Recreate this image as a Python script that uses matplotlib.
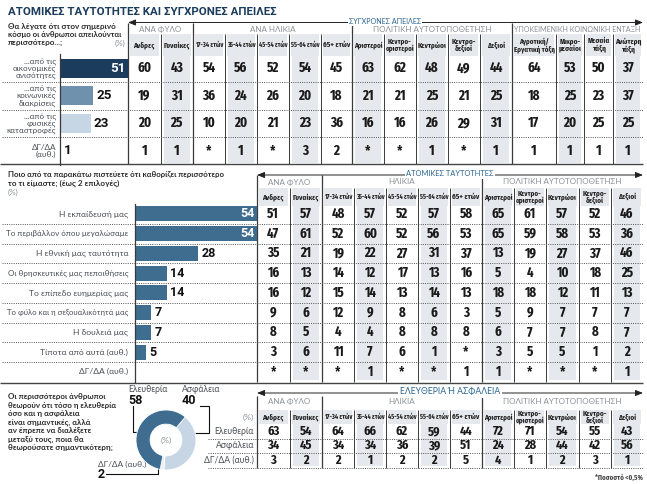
import matplotlib
matplotlib.use('Agg')
import matplotlib.pyplot as plt
from matplotlib import font_manager
from matplotlib.patches import Rectangle

# ---------------- data ----------------
title = "ΑΤΟΜΙΚΕΣ ΤΑΥΤΟΤΗΤΕΣ ΚΑΙ ΣΥΓΧΡΟΝΕΣ ΑΠΕΙΛΕΣ"
gender_cols = ["Ανδρες", "Γυναίκες"]
age_cols = ["17-34 ετών", "35-44 ετών", "45-54 ετών", "55-64 ετών", "65+ ετών"]
pol_cols = ["Αριστεροί", "Κεντρο-\nαριστεροί", "Κεντρώοι", "Κεντρο-\nδεξιοί", "Δεξιοί"]
soc_cols = ["Αγροτική/\nΕργατική τάξη", "Μικρο-\nμεσαίοι", "Μεσαία\nτάξη", "Ανώτερη\nτάξη"]

top_groups = ["ΑΝΑ ΦΥΛΟ", "ΑΝΑ ΗΛΙΚΙΑ", "ΠΟΛΙΤΙΚΗ ΑΥΤΟΤΟΠΟΘΕΤΗΣΗ", "ΥΠΟΚΕΙΜΕΝΙΚΗ ΚΟΙΝΩΝΙΚΗ ΕΝΤΑΞΗ"]
mid_groups = ["ΑΝΑ ΦΥΛΟ", "ΗΛΙΚΙΑ", "ΠΟΛΙΤΙΚΗ ΑΥΤΟΤΟΠΟΘΕΤΗΣΗ"]

q1_title = "ΣΥΓΧΡΟΝΕΣ ΑΠΕΙΛΕΣ"
q1_text = ["Θα λέγατε ότι στον σημερινό", "κόσμο οι άνθρωποι απειλούνται", "περισσότερο...;"]
threat_labels = ["...από τις\nοικονομικές\nανισότητες", "...από τις\nκοινωνικές\nδιακρίσεις",
                 "...από τις\nφυσικές\nκαταστροφές", "ΔΓ/ΔΑ\n(αυθ.)"]
threat_total = [51, 25, 23, 1]
threat_by_group = [
    ["60", "43", "54", "56", "52", "54", "45", "63", "62", "48", "49", "44", "64", "53", "50", "37"],
    ["19", "31", "36", "24", "26", "20", "18", "21", "21", "25", "21", "25", "18", "25", "23", "37"],
    ["20", "25", "10", "20", "21", "23", "36", "16", "16", "26", "29", "31", "17", "20", "25", "25"],
    ["1", "1", "*", "1", "*", "3", "2", "*", "*", "1", "*", "1", "1", "1", "1", "1"],
]

q2_title = "ΑΤΟΜΙΚΕΣ ΤΑΥΤΟΤΗΤΕΣ"
q2_text = ["Ποιο από τα παρακάτω πιστεύετε ότι καθορίζει περισσότερο", "το τι είμαστε; (έως 2 επιλογές)"]
identity_labels = ["Η εκπαίδευσή μας", "Το περιβάλλον όπου μεγαλώσαμε", "Η εθνική μας ταυτότητα",
                   "Οι θρησκευτικές μας πεποιθήσεις", "Το επίπεδο ευημερίας μας",
                   "Το φύλο και η σεξουαλικότητά μας", "Η δουλειά μας", "Τίποτα από αυτά (αυθ.)",
                   "ΔΓ/ΔΑ (αυθ.)"]
identity_total = [54, 54, 28, 14, 14, 7, 7, 5]
identity_by_group = [
    ["51", "57", "48", "57", "52", "57", "58", "65", "61", "57", "52", "46"],
    ["47", "61", "52", "60", "52", "56", "53", "65", "59", "58", "53", "36"],
    ["35", "21", "19", "22", "27", "31", "37", "13", "19", "27", "37", "46"],
    ["16", "13", "14", "12", "17", "13", "16", "5", "4", "10", "18", "25"],
    ["16", "12", "15", "14", "13", "14", "13", "18", "18", "12", "11", "13"],
    ["9", "6", "12", "9", "8", "6", "3", "5", "9", "7", "7", "7"],
    ["8", "5", "4", "4", "8", "8", "8", "6", "7", "7", "8", "7"],
    ["3", "6", "11", "7", "6", "1", "*", "3", "5", "5", "1", "2"],
    ["*", "*", "*", "1", "*", "*", "1", "1", "*", "*", "*", "1"],
]

q3_title = "ΕΛΕΥΘΕΡΙΑ Ή ΑΣΦΑΛΕΙΑ"
q3_text = ["Οι περισσότεροι άνθρωποι", "θεωρούν ότι τόσο η ελευθερία", "όσο και η ασφάλεια",
           "είναι σημαντικές, αλλά", "αν έπρεπε να διαλέξετε", "μεταξύ τους, ποια θα",
           "θεωρούσατε σημαντικότερη;"]
choice_labels = ["Ελευθερία", "Ασφάλεια", "ΔΓ/ΔΑ (αυθ.)"]
choice_total = [58, 40, 2]
choice_by_group = [
    ["63", "54", "64", "66", "62", "59", "44", "72", "71", "54", "55", "43"],
    ["34", "45", "34", "34", "36", "39", "51", "24", "28", "44", "42", "56"],
    ["3", "2", "2", "1", "2", "2", "5", "4", "1", "2", "3", "1"],
]
footnote = "*Ποσοστό <0,5%"

# ---------------- fonts / colours ----------------
names = {f.name for f in font_manager.fontManager.ttflist}


def pick(*cands):
    for n in cands:
        if n in names:
            return n
    return 'DejaVu Sans'


CONDF = [pick('Fira Sans Extra Condensed', 'Fira Sans Condensed', 'Roboto Condensed'), 'DejaVu Sans']
SANS = [pick('Lato', 'Roboto', 'Open Sans'), 'DejaVu Sans']
BOLD = [pick('Roboto', 'Lato', 'Open Sans'), 'DejaVu Sans']

NAVY = '#1b3c5c'
STEEL = '#3f6d90'
MID = '#6f91ad'
LIGHT = '#c6d6e4'
ACCENT = '#2a6591'
GREYTXT = '#8b9097'
LABTXT = '#4a4e54'
SHADE = '#e5e8ec'
LINE = '#3a3a3a'

W, H = 647, 484
fig = plt.figure(figsize=(W / 100, H / 100), dpi=100)
renderer = fig.canvas.get_renderer()
bg = fig.add_axes([0, 0, 1, 1])
bg.set_xlim(0, W)
bg.set_ylim(H, 0)
bg.axis('off')


def fit(t, maxw):
    w = t.get_window_extent(renderer).width
    if w > maxw:
        t.set_fontsize(t.get_fontsize() * maxw / w)
    return t


def fa(x0, y0, x1, y1):
    return [x0 / W, 1 - y1 / H, (x1 - x0) / W, (y1 - y0) / H]


def num(x, y, s, size, maxw):
    t = bg.text(x, y, s, ha='center', va='center', fontsize=size, fontweight='bold',
                family=CONDF, color='#1a1a1a')
    fit(t, maxw)


def arrow(x0, x1, y, label, cx, width):
    bg.annotate('', xy=(x1, y), xytext=(x0, y),
                arrowprops=dict(arrowstyle='<|-|>,head_length=0.45,head_width=0.18',
                                lw=0.7, color='#222222', shrinkA=0, shrinkB=0))
    t = bg.text(cx, y - 1, label, ha='center', va='center', fontsize=6.2, color=ACCENT,
                family=SANS, bbox=dict(facecolor='white', edgecolor='none', pad=1.2))
    fit(t, width)


def table(bounds, group_idx, group_names, group_y, group_top, hy0, hy1, bottom,
          headers, rows, row_y, size):
    ncol = len(bounds) - 1
    for j in range(ncol):
        x0, x1 = bounds[j], bounds[j + 1]
        bg.add_patch(Rectangle((x0 + 2, hy0), x1 - x0 - 4, hy1 - hy0, color=SHADE, lw=0, zorder=0))
        if j % 2 == 1:
            bg.add_patch(Rectangle((x0 + 3, hy1), x1 - x0 - 6, bottom - hy1 - 1.5,
                                   color=SHADE, lw=0, zorder=0))
        t = bg.text((x0 + x1) / 2, (hy0 + hy1) / 2, headers[j], ha='center', va='center',
                    fontsize=5.6, fontweight='bold', family=CONDF,
                    color='#222222', linespacing=0.92)
        fit(t, x1 - x0 - 3)
        for i, r in enumerate(rows):
            num((x0 + x1) / 2, row_y[i], r[j], size, x1 - x0 - 6)
    inner = [bounds[k] for k in range(ncol) if k not in group_idx]
    bg.vlines(inner, hy0, bottom, color=LINE, lw=0.7, zorder=1)
    gx = [bounds[k] for k in group_idx if k < ncol]
    bg.vlines(gx, group_top, bottom, color=LINE, lw=0.9, zorder=1)
    for g in range(len(group_names)):
        a, b = bounds[group_idx[g]], bounds[group_idx[g + 1]]
        t = bg.text((a + b) / 2, group_y, group_names[g], ha='center', va='center',
                    fontsize=5.8, color=GREYTXT, family=SANS)
        fit(t, b - a - 3)


def dotted(ys, x0=2, x1=643):
    bg.hlines(ys, x0, x1, colors='#555555', lw=0.7, linestyles=(0, (1, 1.3)), zorder=1)


# ---------------- title ----------------
fit(bg.text(8, 12, title, ha='left', va='center', fontsize=10.5, fontweight='bold',
            family=BOLD, color=NAVY), 268)

# ================= section 1 =================
t_top, t_pitch = 54.5, 27.5
t_rows = [t_top + t_pitch * (i + 0.5) for i in range(len(threat_labels))]
t_bottom = 164
for i, s in enumerate(q1_text):
    fit(bg.text(8, 27 + 8 * i, s, ha='left', va='center', fontsize=5.9, fontweight='bold',
                family=SANS, color='#2b2b2b'), 112)
bg.text(125, 43, "(%)", ha='right', va='center', fontsize=5.9, color=GREYTXT, family=SANS)
arrow(128, 643, 22.5, q1_title, 385, 72)

top_bounds = [128, 160.5, 193, 225, 257, 289, 321, 352, 384, 416, 448, 480, 512, 556, 584, 613, 643]
table(top_bounds, [0, 2, 7, 12, 16], top_groups, 29, 22.5, 34, 56, t_bottom,
      gender_cols + age_cols + pol_cols + soc_cols, threat_by_group, t_rows, 10.2)
dotted([t_top + t_pitch * k for k in range(1, len(threat_labels))])
bg.hlines([t_bottom], 0, 643, colors='#444444', lw=1.0)

for i, s in enumerate(threat_labels):
    bg.text(56, t_rows[i], s, ha='right', va='center', fontsize=5.9, color=LABTXT,
            family=SANS, linespacing=0.95)

ax1 = fig.add_axes(fa(60, t_top, 128, t_top + t_pitch * len(threat_labels)))
ax1.patch.set_alpha(0)
cols1 = [NAVY, MID, LIGHT, LIGHT]
ax1.barh(range(len(threat_total)), threat_total, height=0.7, color=cols1)
ax1.set_xlim(0, max(threat_total))
ax1.set_ylim(len(threat_total) - 0.5, -0.5)
for sp in ['top', 'right', 'bottom']:
    ax1.spines[sp].set_visible(False)
ax1.spines['left'].set_color(LINE)
ax1.spines['left'].set_linewidth(0.9)
ax1.set_xticks([]); ax1.set_yticks([])
for i, v in enumerate(threat_total):
    if v > 40:
        ax1.text(v - 1.5, i, str(v), ha='right', va='center', color='white', fontsize=9.6,
                 fontweight='bold', family=BOLD)
    else:
        ax1.text(v + 2, i, str(v), ha='left', va='center', color='#111111', fontsize=9.6,
                 fontweight='bold', family=BOLD, clip_on=False)

# ================= section 2 =================
m_top, m_pitch = 204, 19.75
m_rows = [m_top + m_pitch * (i + 0.5) for i in range(len(identity_labels))]
m_bottom = m_top + m_pitch * len(identity_labels)
for i, s in enumerate(q2_text):
    fit(bg.text(8, 174 + 9 * i, s, ha='left', va='center', fontsize=5.9, fontweight='bold',
                family=SANS, color='#2b2b2b'), 214)
bg.text(8, 192, "(%)", ha='left', va='center', fontsize=5.9, color=GREYTXT, family=SANS)
arrow(257, 643, 175, q2_title, 450, 88)

mid_bounds = [257, 289.5, 322, 354, 386, 418, 450, 482, 514, 546, 578.5, 611, 643]
table(mid_bounds, [0, 2, 7, 12], mid_groups, 182, 175, 188, 205.5, m_bottom,
      gender_cols + age_cols + pol_cols, identity_by_group, m_rows, 10.0)
dotted([m_top + m_pitch * k for k in range(1, len(identity_labels))])
bg.hlines([m_bottom + 1], 0, 643, colors='#444444', lw=1.0)

for i, s in enumerate(identity_labels):
    fit(bg.text(128, m_rows[i], s, ha='right', va='center', fontsize=6.1, color=LABTXT,
                family=SANS), 122)

ax2 = fig.add_axes(fa(135, m_top, 257, m_bottom))
ax2.patch.set_alpha(0)
ax2.barh(range(len(identity_total)), identity_total, height=0.76, color=STEEL)
ax2.set_xlim(0, max(identity_total))
ax2.set_ylim(len(identity_labels) - 0.5, -0.5)
for sp in ['top', 'right', 'bottom']:
    ax2.spines[sp].set_visible(False)
ax2.spines['left'].set_color(LINE)
ax2.spines['left'].set_linewidth(0.9)
ax2.set_xticks([]); ax2.set_yticks([])
for i, v in enumerate(identity_total):
    if v > 40:
        ax2.text(v - 1.2, i, str(v), ha='right', va='center', color='white', fontsize=9,
                 fontweight='bold', family=BOLD)
    else:
        ax2.text(v + 1.5, i, str(v), ha='left', va='center', color='#111111', fontsize=9,
                 fontweight='bold', family=BOLD, clip_on=False)

# ================= section 3 =================
b_top, b_pitch = 424, 14.5
b_rows = [b_top + b_pitch * (i + 0.5) for i in range(len(choice_labels))]
b_bottom = b_top + b_pitch * len(choice_labels)
for i, s in enumerate(q3_text):
    fit(bg.text(8, 397 + 8.4 * i, s, ha='left', va='center', fontsize=5.8, fontweight='bold',
                family=SANS, color='#2b2b2b'), 107)
arrow(257, 643, 393, q3_title, 450, 100)
table(mid_bounds, [0, 2, 7, 12], mid_groups, 401, 396, 410, 424, b_bottom,
      gender_cols + age_cols + pol_cols, choice_by_group, b_rows, 9.6)
dotted([b_top + b_pitch * k for k in range(1, len(choice_labels) + 1)], x0=208)
bg.text(254, 417, "(%)", ha='right', va='center', fontsize=6.0, color=GREYTXT, family=SANS)
for i, s in enumerate(choice_labels):
    bg.text(254, b_rows[i], s, ha='right', va='center', fontsize=6.2, color=LABTXT, family=SANS)
bg.text(643, 478, footnote, ha='right', va='center', fontsize=5.4, family=CONDF,
        fontweight='bold', color='#444444')

# donut
cx, cy, R = 166, 440, 30
ax3 = fig.add_axes(fa(cx - R, cy - R, cx + R, cy + R))
ax3.pie([choice_total[1], choice_total[2], choice_total[0]],
        colors=[LIGHT, '#e9eef3', STEEL], startangle=50, counterclock=False,
        radius=1, wedgeprops=dict(width=0.47, edgecolor='white', linewidth=0.6))
ax3.set_xlim(-1, 1); ax3.set_ylim(-1, 1)
ax3.text(0, 0, "(%)", ha='center', va='center', fontsize=6.0, color=GREYTXT, family=SANS)

# leader lines / labels
bg.text(128, 390, choice_labels[0], ha='left', va='center', fontsize=6.2, color=LABTXT, family=SANS)
bg.text(128, 400, str(choice_total[0]), ha='left', va='center', fontsize=9, fontweight='bold',
        family=BOLD, color='#111111')
bg.plot([132.5, 132.5, 145], [406, 432, 432], color='#111111', lw=0.8)
bg.plot([145], [432], 'o', color='#111111', ms=2.5)
bg.text(182, 390, choice_labels[1], ha='left', va='center', fontsize=6.2, color=LABTXT, family=SANS)
bg.text(182, 400, str(choice_total[1]), ha='left', va='center', fontsize=9, fontweight='bold',
        family=BOLD, color='#111111')
bg.plot([200, 209, 209, 188], [406, 406, 433, 433], color='#111111', lw=0.8)
bg.plot([188], [433], 'o', color='#111111', ms=2.5)
bg.text(98, 464, choice_labels[2], ha='left', va='center', fontsize=6.0, color=LABTXT, family=SANS)
bg.text(98, 474, str(choice_total[2]), ha='left', va='center', fontsize=9, fontweight='bold',
        family=BOLD, color='#111111')
bg.plot([106, 158, 158], [474, 474, 462], color='#111111', lw=0.8)
bg.plot([158], [462], 'o', color='#111111', ms=2.5)

fig.savefig('out.png', dpi=100)
